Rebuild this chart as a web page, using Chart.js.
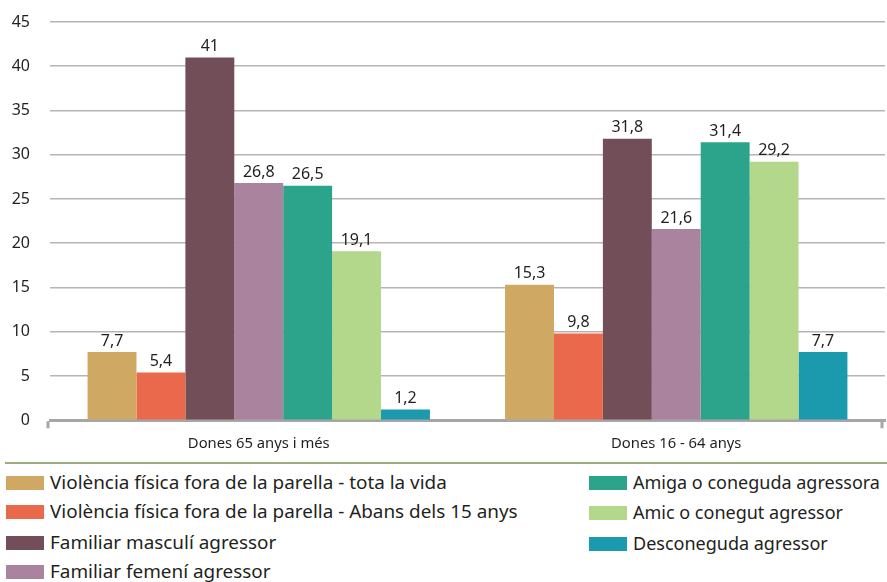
<!DOCTYPE html>
<html>
<head>
<meta charset="utf-8">
<script src="https://cdn.jsdelivr.net/npm/chart.js@4/dist/chart.umd.min.js"></script>
<style>
html,body{margin:0;padding:0;background:#fff;}
#wrap{position:relative;width:887px;height:582px;overflow:hidden;font-family:"Noto Sans",sans-serif;}
#cv{position:absolute;left:0;top:0;}
#sep{position:absolute;left:5px;top:462px;width:882px;height:2px;background:#9cac7c;}
.li{position:absolute;height:22px;line-height:22px;font-size:18.9px;color:#231f20;white-space:nowrap;}
.li.r{font-size:18px;}
.sw{position:absolute;left:0;top:4px;width:38px;height:14px;}
.lt{position:absolute;left:44px;top:-1px;}
</style>
</head>
<body>
<div id="wrap">
<div style="position:absolute;left:0;top:0;width:887px;height:460px;"><canvas id="cv"></canvas></div>
<div id="sep"></div>
<div id="legend"></div>
</div>
<script>
const categories = ["Dones 65 anys i més", "Dones 16 - 64 anys"];
const seriesNames = [
  "Violència física fora de la parella - tota la vida",
  "Violència física fora de la parella - Abans dels 15 anys",
  "Familiar masculí agressor",
  "Familiar femení agressor",
  "Amiga o coneguda agressora",
  "Amic o conegut agressor",
  "Desconeguda agressor"
];
const sVidaTotal = [7.7, 15.3];
const sAbans15 = [5.4, 9.8];
const sFamMasc = [41, 31.8];
const sFamFem = [26.8, 21.6];
const sAmiga = [26.5, 31.4];
const sAmic = [19.1, 29.2];
const sDescon = [1.2, 7.7];
const yTicks = [0, 5, 10, 15, 20, 25, 30, 35, 40, 45];
const colors = ["#cfa964", "#ea684c", "#724e59", "#aa839e", "#2ca38b", "#b3d78b", "#1b9aad"];
const allSeries = [sVidaTotal, sAbans15, sFamMasc, sFamFem, sAmiga, sAmic, sDescon];

const fmt = v => String(v).replace('.', ',');

const valueLabels = {
  id: 'valueLabels',
  afterDatasetsDraw(chart) {
    const ctx = chart.ctx;
    ctx.save();
    ctx.font = '16px "Noto Sans"';
    ctx.fillStyle = '#231f20';
    ctx.textAlign = 'center';
    ctx.textBaseline = 'bottom';
    chart.data.datasets.forEach((ds, i) => {
      chart.getDatasetMeta(i).data.forEach((bar, j) => {
        ctx.fillText(fmt(ds.data[j]), bar.x, bar.y - 3);
      });
    });
    ctx.restore();
  }
};
const axisTicks = {
  id: 'axisTicks',
  afterDraw(chart) {
    const ctx = chart.ctx, a = chart.chartArea;
    ctx.save();
    ctx.strokeStyle = '#a6a6a6';
    ctx.lineWidth = 3;
    ctx.beginPath();
    ctx.moveTo(a.left - 2, a.bottom + 1); ctx.lineTo(a.left - 2, a.bottom + 8);
    ctx.moveTo(a.right - 3, a.bottom + 1); ctx.lineTo(a.right - 3, a.bottom + 8);
    ctx.stroke();
    ctx.restore();
  }
};

new Chart(document.getElementById('cv'), {
  type: 'bar',
  data: {
    labels: categories,
    datasets: allSeries.map((d, i) => ({
      label: seriesNames[i],
      data: d,
      backgroundColor: colors[i],
      borderWidth: 0,
      categoryPercentage: 0.82,
      barPercentage: 1.0
    }))
  },
  options: {
    responsive: true,
    maintainAspectRatio: false,
    animation: false,
    layout: { padding: { top: 22, right: 2, left: 0, bottom: 0 } },
    plugins: { legend: { display: false }, tooltip: { enabled: false } },
    scales: {
      x: {
        grid: { display: false },
        border: { display: true, color: '#a6a6a6', width: 3 },
        ticks: { color: '#231f20', font: { family: 'Noto Sans', size: 14.8 }, padding: 7 }
      },
      y: {
        min: 0, max: 45,
        afterBuildTicks(scale) { scale.ticks = yTicks.map(v => ({ value: v })); },
        afterFit(scale) { scale.width = 50; scale.paddingTop = 0; scale.paddingBottom = 0; },
        grid: { color: '#b5b5b5', lineWidth: 1.5, drawTicks: false },
        border: { display: false },
        ticks: { color: '#231f20', font: { family: 'Noto Sans', size: 16 }, padding: 20 }
      }
    }
  },
  plugins: [valueLabels, axisTicks]
});

const leg = document.getElementById('legend');
const pos = [[6,472],[6,501],[6,532],[6,561],[589,472],[589,502],[589,533]];
seriesNames.forEach((n, i) => {
  const d = document.createElement('div');
  d.className = 'li' + (i >= 4 ? ' r' : '');
  d.style.left = pos[i][0] + 'px';
  d.style.top = pos[i][1] + 'px';
  d.innerHTML = '<div class="sw" style="background:' + colors[i] + '"></div><div class="lt"></div>';
  d.querySelector('.lt').textContent = n;
  leg.appendChild(d);
});
</script>
</body>
</html>
